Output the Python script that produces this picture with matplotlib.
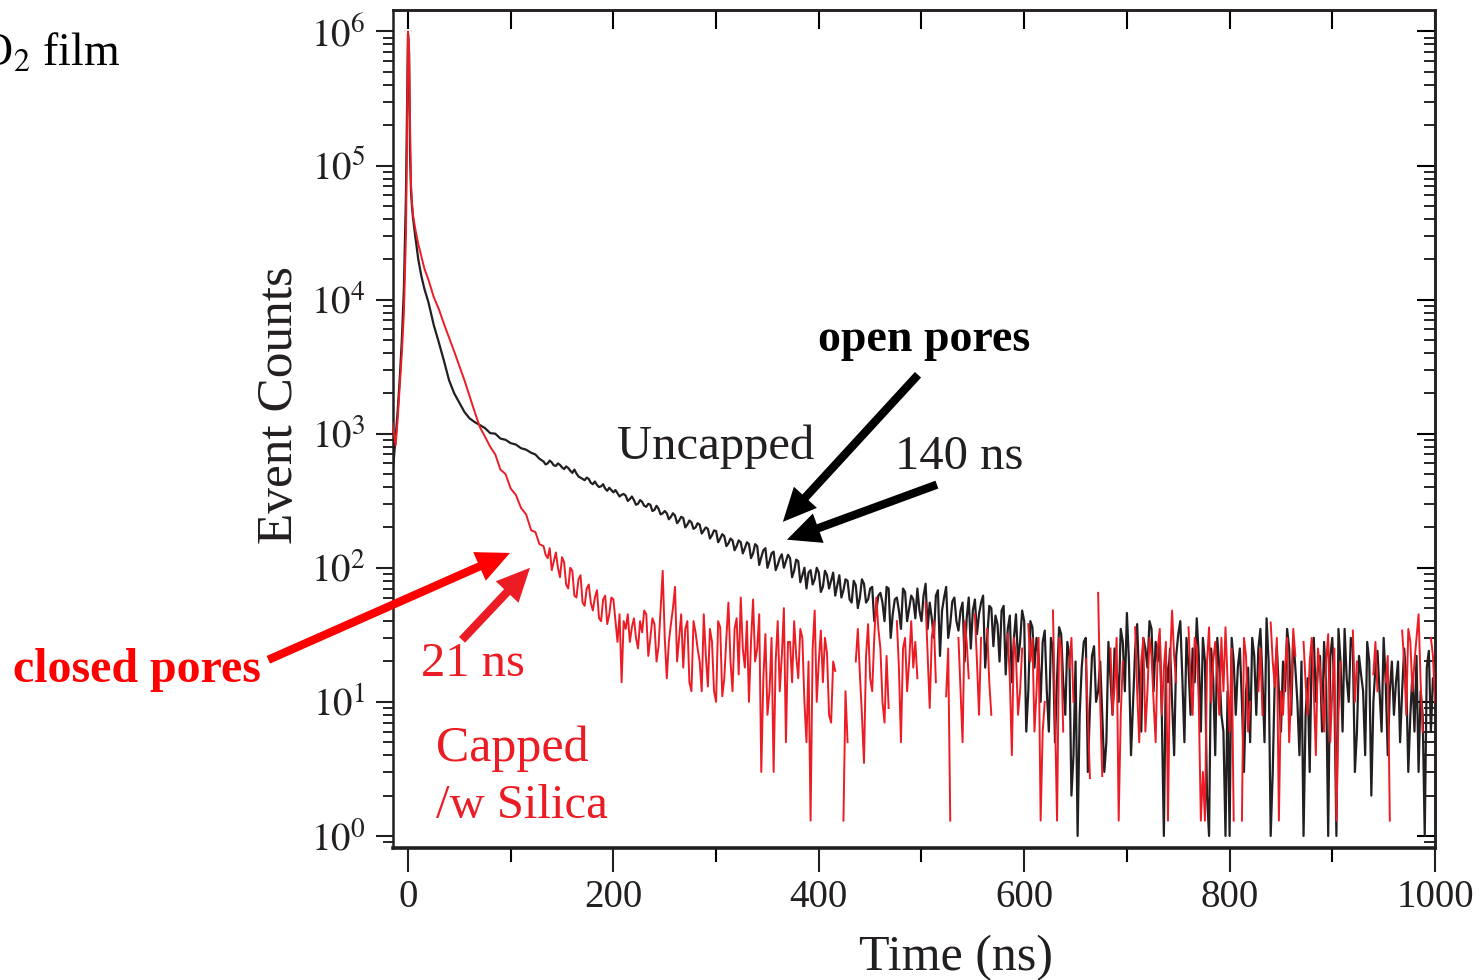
import numpy as np
import matplotlib
matplotlib.use("Agg")
from matplotlib import pyplot as plt
from matplotlib import ticker

nan = np.nan

# time axis near the prompt peak (ns)
t_head = [-15, -12, -10, -8, -6, -4, -2, -1, 0, 1, 2, 3, 4, 5, 7, 10, 13, 16, 20, 25,
          30, 35, 40, 45, 50, 55, 60, 65, 70, 75, 80, 85, 90, 95, 100, 105, 110, 115, 120, 124, 128]

uncapped_head = [500, 950, 1500, 2600, 5000, 12000, 60000, 250000, 950000, 700000,
                 120000, 63000, 48000, 40000, 30000, 20000, 15000, 12000, 9500, 6500,
                 4800, 3500, 2500, 2000, 1700, 1450, 1300, 1220, 1160, 1100,
                 1010, 1000, 920, 900, 850, 830, 780, 760, 720, 700, 650]

capped_head = [1200, 820, 1300, 2300, 4000, 8000, 30000, 150000, 1000000, 800000,
               200000, 70000, 52000, 42000, 34000, 26000, 21000, 17000, 14000, 10500,
               8500, 6600, 5200, 4100, 3200, 2500, 1900, 1450, 1120, 950,
               800, 700, 540, 500, 390, 350, 280, 250, 190, 185, 150]

# tail channels: even ones at 132, 136, ... and odd ones at 134, 138, ...
tail_start = 132
tail_step = 4

uncapped_tail = [
    620, 600, 610, 575, 585, 545, 555, 510, 505, 470,
    450, 460, 420, 415, 405, 390, 395, 365, 360, 350,
    345, 325, 320, 300, 310, 285, 295, 270, 275, 255,
    255, 240, 245, 225, 235, 210, 218, 200, 210, 190,
    195, 175, 188, 165, 172, 152, 160, 145, 155, 140,
    150, 128, 145, 120, 140, 112, 132, 105, 126, 112,
    118, 95, 112, 88, 70, 96, 82, 92, 72, 88,
    80, 62, 88, 68, 80, 55, 74, 60, 76, 58,
    72, 48, 65, 40, 70, 45, 60, 35, 66, 50,
    58, 70, 40, 76, 55, 30, 68, 48, 72, 38,
    60, 34, 55, 42, 25, 58, 45, 62, 30, 50,
    44, 20, 52, 35, 14, 45, 28, 40, 12, 36,
    30, 10, 34, 6, 25, 15, 32, 8, 22, 4,
    1, 18, 30, 9, 26,
    12, 8, 5, 15, 25, 10, 28, 46, 4, 24,
    14, 30, 18, 35, 28, 30, 1, 14, 10, 22,
    40, 5, 18, 25, 42, 6, 20, 1, 15, 30,
    8, 1, 1, 20, 18, 10, 12, 5, 22, 25,
    15, 42, 1, 15, 12,
    20, 35, 8, 18, 4, 1, 15, 25, 10, 22,
    28, 1, 30, 1, 20, 35, 10, 26, 6, 16,
    4, 20, 10, 24, 6, 14, 12, 8, 20, 12,
    15, 8, 6, 3, 8, 18, 6, 12,
]

uncapped_tail_odd = [
    590, 630, 580, 600, 560, 570, 530, 540, 480, 460,
    470, 430, 440, 400, 420, 375, 380, 380, 340, 355,
    315, 340, 295, 320, 290, 300, 265, 290, 250, 265,
    230, 255, 215, 240, 200, 225, 195, 215, 180, 200,
    165, 190, 155, 178, 145, 165, 135, 160, 128, 155,
    118, 150, 105, 135, 100, 128, 96, 118, 100, 125,
    85, 115, 78, 100, 92, 75, 100, 66, 95, 70,
    92, 74, 60, 82, 58, 80, 50, 82, 55, 70,
    40, 62, 55, 72, 30, 58, 48, 70, 40, 62,
    42, 48, 62, 35, 42, 62, 22, 60, 30, 56,
    40, 48, 20, 60, 48, 32, 55, 18, 52, 26,
    38, 48, 16, 44, 30, 20, 48, 6, 40, 18,
    22, 28, 12, 30, 5, 36, 14, 28, 2, 20,
    8, 28, 3, 22, 10,
    20, 3, 28, 8, 18, 35, 12, 20, 10, 38,
    6, 25, 40, 12, 20, 8, 20, 25, 4, 32,
    15, 30, 8, 14, 22, 30, 2, 25, 4, 18,
    6, 12, 30, 8, 25, 3, 18, 30, 8, 35,
    5, 20, 3, 26, 6,
    12, 25, 30, 10, 20, 8, 3, 30, 18, 6,
    14, 22, 12, 35, 6, 15, 30, 3, 22, 12,
    28, 2, 18, 12, 30, 4, 20, 14, 5, 25,
    3, 16, 22, 12, 1, 24, 15,
]

capped_tail = [
    145, 118, 96, 130, 85, 110, 70, 95, 60, 88,
    52, 75, 48, 68, 40, 62, 45, 58, 28, 14,
    35, 28, 42, 25, 33, 45, 30, 38, 26, 95,
    15, 38, 72, 30, 18, 40, 12, 33, 20, 45,
    13, 28, 10, 36, 15, 55, 12, 42, 60, 18,
    10, 58, 25, 3, 32, 12, 3, 40, 22, 5,
    28, 40, 15, 30, 5, 1.3, 48, 20, 14, 23,
    7, 17, nan, 1.3, 5, nan, 20, 16, 3.5, 38,
    12, 60, 25, 7, 9, nan, 40, 5, 30, 20,
    18, 15, nan, 55, 9, 40, nan, nan, 11, 1.3,
    nan, 30, 5, 28, nan, 45, 8, nan, 35, 8,
    nan, nan, nan, 32, 4, 22, 12, nan, 38, 30,
    12, 1.3, 10, nan, 48, 1.3, 25, nan, 18, 10,
    nan, nan, 21, 2.7, nan,
    65, 2.8, nan, 25, 13, 1.3, 20, nan, nan, 36,
    5, 30, 12, 22, 5, 35, 18, 1.3, 48, 14,
    nan, nan, 36, 8, 25, 1.3, 1.3, 36, 20, 16,
    30, 36, 6, 1.3, nan, 1.3, 22, 10, nan, 12,
    8, nan, 39, 13, 1.3,
    8, 30, 12, 22, nan, 28, 8, 30, 4, 18,
    6, 32, 12, 1.3, 20, nan, nan, 34, 20, nan,
    nan, nan, 16, 12, nan, 14, 1.3, nan, nan, 34,
    8, 28, 20, 45, 6, nan, 30, 10,
]

capped_tail_odd = [
    125, 140, 112, 100, 120, 75, 100, 62, 82, 55,
    70, 55, 60, 42, 58, 38, 60, 40, 45, 40,
    45, 36, 30, 40, 48, 22, 42, 20, 50, 30,
    28, 50, 20, 45, 35, 14, 40, 25, 12, 22,
    35, 12, 40, 11, 30, 20, 35, 16, 25, 40,
    28, 20, 45, 15, 8, 30, 20, 12, 50, 28,
    14, 22, 35, 10, 20, 25, 10, 34, 30, 8,
    20, nan, nan, 12, nan, nan, 35, 8, 22, 15,
    30, 35, 10, 22, nan, nan, 18, 25, 12, 40,
    28, nan, nan, 22, 30, 14, nan, nan, 25, nan,
    nan, 12, 40, 15, nan, 20, 30, nan, 14, nan,
    nan, nan, nan, 15, 30, 8, 25, nan, 20, 6,
    30, 6, nan, nan, 8, 30, 6, nan, 30, nan,
    nan, nan, 8, nan, nan,
    10, nan, nan, 8, 30, 8, nan, nan, nan, 12,
    20, 6, 30, 10, 25, 8, 28, 20, 22, nan,
    nan, nan, 14, 30, 10, 3, 20, 10, 28, 8,
    12, 15, 25, nan, nan, 30, 6, nan, nan, 25,
    nan, nan, 20, 30, 12,
    18, 5, 35, nan, nan, 14, 20, 12, 25, 10,
    20, 5, 25, 8, nan, nan, nan, 10, nan, nan,
    nan, nan, 28, nan, nan, 22, nan, nan, nan, 20,
    35, 12, 30, 14, nan, nan, 22,
]

x_ticks = [0, 200, 400, 600, 800, 1000]
y_decades = [0, 1, 2, 3, 4, 5, 6]

black = "#231f20"
red_data = "#ec1c24"
red_note = "#ff0000"

plt.rcParams["font.family"] = ["Liberation Serif", "DejaVu Serif"]
plt.rcParams["mathtext.fontset"] = "stix"


def build_series(head_y, tail_even, tail_odd):
    t_even = tail_start + tail_step * np.arange(len(tail_even))
    t_odd = tail_start + tail_step / 2 + tail_step * np.arange(len(tail_odd))
    t = np.concatenate([t_head, t_even, t_odd])
    y = np.concatenate([head_y, tail_even, tail_odd]).astype(float)
    order = np.argsort(t, kind="stable")
    return t[order], y[order]


fig = plt.figure(figsize=(14.8, 9.8), dpi=100)
ax = fig.add_axes([393 / 1480, 1 - 848 / 980, (1435 - 393) / 1480, (848 - 10) / 980])

t_unc, y_unc = build_series(uncapped_head, uncapped_tail, uncapped_tail_odd)
t_cap, y_cap = build_series(capped_head, capped_tail, capped_tail_odd)

ax.plot(t_unc, y_unc, color=black, lw=1.6, zorder=2)
ax.plot(t_cap, y_cap, color=red_data, lw=1.4, zorder=3)

ax.set_yscale("log")
ax.set_xlim(-14.6, 1000)
ax.set_ylim(10 ** -0.09, 10 ** 6.16)

# ticks: bottom/left outward, top/right inward
ax.xaxis.set_major_locator(ticker.FixedLocator(x_ticks))
ax.xaxis.set_minor_locator(ticker.MultipleLocator(100))
ax.yaxis.set_major_locator(ticker.FixedLocator([10.0 ** d for d in y_decades]))
ax.yaxis.set_minor_locator(ticker.LogLocator(base=10, subs=np.arange(2, 10)))
ax.yaxis.set_minor_formatter(ticker.NullFormatter())
ax.yaxis.set_major_formatter(ticker.FuncFormatter(lambda v, p: r"$10^{%d}$" % round(np.log10(v))))
ax.tick_params(axis="x", which="major", direction="out", length=17, width=1.5, pad=5,
               labelsize=28, colors=black)
ax.tick_params(axis="x", which="minor", direction="out", length=10, width=1.5)
ax.tick_params(axis="y", which="major", direction="out", length=12, width=1.5, pad=8,
               labelsize=28, colors=black)
ax.tick_params(axis="y", which="minor", direction="out", length=7, width=1.2)

top = ax.secondary_xaxis("top")
top.set_xticks(np.arange(0, 1001, 100))
top.tick_params(direction="in", length=14, width=1.5, labeltop=False)
top.xaxis.set_minor_locator(ticker.NullLocator())

right = ax.secondary_yaxis("right")
right.set_yticks([10.0 ** d for d in y_decades])
right.yaxis.set_minor_locator(ticker.LogLocator(base=10, subs=np.arange(2, 10)))
right.tick_params(which="major", direction="in", length=13, width=1.5, labelright=False)
right.tick_params(which="minor", direction="in", length=8, width=1.2, labelright=False)

for s in list(ax.spines.values()) + [top.spines["top"], right.spines["right"]]:
    s.set_linewidth(1.8)
    s.set_color(black)
ax.spines["bottom"].set_linewidth(2.6)

ax.set_xlabel("Time (ns)", fontsize=36, color=black)
ax.xaxis.set_label_coords(0.54, -0.104)
ax.set_ylabel("Event Counts", fontsize=37, color=black)
ax.yaxis.set_label_coords(-0.086, 0.529)

# text labels
ax.text(300, 800, "Uncapped", fontsize=35, color=black, ha="center", va="center")
ax.text(537, 675, "140 ns", fontsize=35, color=black, ha="center", va="center")
ax.text(503, 5000, "open pores", fontsize=33, fontweight="bold", color="black",
        ha="center", va="center")
ax.text(63, 19, "21 ns", fontsize=35, color=red_data, ha="center", va="center")
ax.text(27, 4.5, "Capped", fontsize=36, color=red_data, ha="left", va="center")
ax.text(27, 1.67, "/w Silica", fontsize=35, color=red_data, ha="left", va="center")
ax.text(-143, 17.3, "closed pores", fontsize=34.5, fontweight="bold", color=red_note,
        ha="right", va="center", clip_on=False)

# arrows
arrow_kw = dict(arrowstyle="simple,head_length=0.8,head_width=0.75,tail_width=0.2",
                mutation_scale=30, lw=0, shrinkA=0, shrinkB=0)
ax.annotate("", xy=(365, 220), xytext=(496.6, 2750),
            arrowprops=dict(color="black", **arrow_kw))
ax.annotate("", xy=(369, 162), xytext=(515, 417),
            arrowprops=dict(color="black", **arrow_kw))
ax.annotate("", xy=(99.3, 129), xytext=(-136, 20.6), annotation_clip=False,
            arrowprops=dict(color=red_note, **arrow_kw))
ax.annotate("", xy=(118.8, 100), xytext=(52.6, 29),
            arrowprops=dict(color=red_data, **arrow_kw))

# panel title, cut at the left edge as in the source figure
fig.text(120 / 1480, 1 - 65 / 980, r"SiO$_2$ film", fontsize=33, color="black",
         ha="right", va="baseline")

fig.savefig("out.png", dpi=100)
